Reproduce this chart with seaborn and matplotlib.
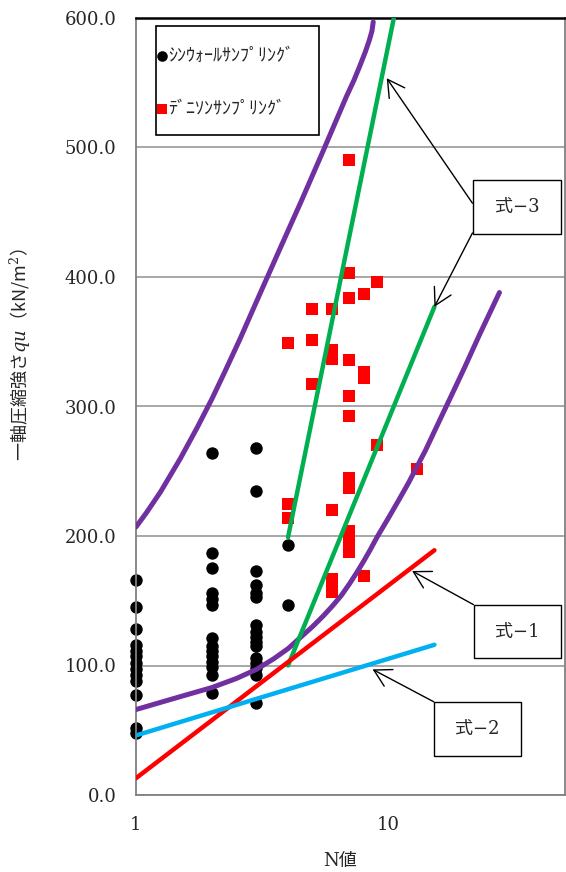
import matplotlib
matplotlib.use("Agg")
import matplotlib.pyplot as plt
import seaborn as sns
from matplotlib.patches import Rectangle
from matplotlib.ticker import FixedLocator, NullFormatter, StrMethodFormatter

# シンウォールサンプリング (N値, qu)
thin_n = [1] * 13 + [2] * 14 + [3] * 16 + [4] * 2
thin_qu = [166, 145, 128, 116, 111, 107, 102, 97, 93, 88, 77, 52, 48,
           264, 187, 175, 156, 151, 147, 121, 115, 111, 107, 103, 99, 93, 79,
           268, 235, 173, 162, 156, 153, 131, 126, 122, 118, 115, 106, 102, 98, 93, 71,
           193, 147]

# デニソンサンプリング (N値, qu)
den_n = [4] * 3 + [5] * 3 + [6] * 7 + [7] * 12 + [8] * 4 + [9] * 2 + [13]
den_qu = [349, 225, 214,
          375, 351, 317,
          375, 344, 337, 220, 167, 161, 157,
          490, 403, 384, 336, 308, 293, 245, 237, 204, 199, 193, 188,
          387, 327, 322, 169,
          396, 270,
          252]

# 上限・下限の曲線 (紫)
upper_n = [1, 1.1, 1.25, 1.5, 1.75, 2, 2.25, 2.58, 3, 3.7, 4.5, 5.5, 6.8, 7.3, 7.7, 8.1, 8.4, 8.6, 8.7]
upper_qu = [207, 218, 234, 260, 284, 306, 327, 352, 381, 421, 458, 497, 539, 552, 563, 574, 583, 590, 597]
lower_n = [1, 1.5, 2, 2.5, 3, 3.5, 4, 4.5, 5, 5.5, 6, 6.5, 7, 7.5, 8, 8.5, 9, 10,
           11, 12, 14, 16, 18, 20, 23, 27.5]
lower_qu = [66, 76, 83, 90, 97, 105, 113, 122, 130, 138, 146, 154, 163, 172, 181, 190, 199, 214,
            228, 241, 266, 290, 311, 330, 356, 388]

# 式-3 (緑)
eq3a_n = [4, 10.5]
eq3a_qu = [199, 600]
eq3b_n = [4, 15.2]
eq3b_qu = [100, 377]

# 式-1 (赤), 式-2 (青)
eq1_n = [1, 15.2]
eq1_qu = [13, 189]
eq2_n = [1, 15.2]
eq2_qu = [46, 116]

sns.set_style("white")
plt.rcParams["font.family"] = ["DejaVu Serif", "Noto Sans CJK JP"]
plt.rcParams["mathtext.fontset"] = "dejavuserif"

fig = plt.figure(figsize=(5.66, 8.72), dpi=100)
ax = fig.add_axes([136 / 566, 77 / 872, 429 / 566, 777 / 872])
ax.set_xscale("log")

sns.scatterplot(x=thin_n, y=thin_qu, ax=ax, color="black", marker="o", s=80,
                linewidth=0, label="ｼﾝｳｫｰﾙｻﾝﾌﾟﾘﾝｸﾞ", zorder=2, clip_on=False)
sns.scatterplot(x=den_n, y=den_qu, ax=ax, color="#ff0000", marker="s", s=75,
                linewidth=0, label="ﾃﾞﾆｿﾝｻﾝﾌﾟﾘﾝｸﾞ", zorder=2)

lines = [
    (upper_n, upper_qu, "#7030a0", 3.6),
    (lower_n, lower_qu, "#7030a0", 3.6),
    (eq3a_n, eq3a_qu, "#00b050", 3.2),
    (eq3b_n, eq3b_qu, "#00b050", 3.2),
    (eq1_n, eq1_qu, "#ff0000", 3.2),
    (eq2_n, eq2_qu, "#00b0f0", 3.2),
]
for n, q, c, lw in lines:
    sns.lineplot(x=n, y=q, ax=ax, color=c, lw=lw, estimator=None, sort=False,
                 zorder=3, solid_capstyle="round", solid_joinstyle="round")

# axes
ax.set_xlim(1, 50)
ax.set_ylim(0, 600)
ax.set_yticks(range(0, 601, 100))
ax.yaxis.set_major_formatter(StrMethodFormatter("{x:.1f}"))
ax.xaxis.set_major_locator(FixedLocator([1, 10]))
ax.set_xticklabels(["1", "10"])
ax.xaxis.set_minor_locator(FixedLocator([2, 3, 4, 5, 6, 7, 8, 9, 20, 30, 40]))
ax.xaxis.set_minor_formatter(NullFormatter())
ax.tick_params(axis="x", which="major", direction="in", length=5, color="#808080",
               pad=15, labelsize=13)
ax.tick_params(axis="x", which="minor", direction="in", length=4, color="#808080")
ax.tick_params(axis="y", length=0, pad=14, labelsize=13)
ax.yaxis.grid(True, color="#a0a0a0", lw=1.3)
ax.xaxis.grid(False)
for side in ["left", "bottom", "right"]:
    ax.spines[side].set_color("#808080")
    ax.spines[side].set_linewidth(1.3)
ax.spines["top"].set_color("black")
ax.spines["top"].set_linewidth(1.8)

ax.set_ylabel("一軸圧縮強さ$qu$（kN/m$^2$）", fontsize=13, family=["Noto Sans CJK JP"])
ax.yaxis.set_label_coords(-0.24, 0.566)
ax.set_xlabel("N値", fontsize=13)
ax.xaxis.set_label_coords(0.4755, -0.073)

# legend box
ax.add_patch(Rectangle((0.0466, 0.8494), 0.38, 0.1403, transform=ax.transAxes,
                       facecolor="white", edgecolor="black", lw=1.2, zorder=4))
leg = ax.legend(loc="upper left", bbox_to_anchor=(0.047, 0.963), frameon=False,
                borderpad=0, borderaxespad=0, handletextpad=0.05, handlelength=0.6,
                labelspacing=1.95, markerscale=0.85,
                prop={"family": ["Noto Sans CJK JP"], "size": 13})
leg.set_zorder(5)

# 式 labels
boxes = [
    ("式−3", 0.7855, 0.7220, 0.2051, 0.0695),
    ("式−1", 0.7879, 0.1763, 0.2028, 0.0682),
    ("式−2", 0.6946, 0.0502, 0.2028, 0.0695),
]
for txt, x0, y0, w, h in boxes:
    ax.add_patch(Rectangle((x0, y0), w, h, transform=ax.transAxes,
                           facecolor="white", edgecolor="black", lw=1, zorder=5))
    ax.text(x0 + w / 2, y0 + h / 2, txt, transform=ax.transAxes, ha="center",
            va="center", fontsize=13, zorder=6)

arrow = dict(arrowstyle="->,head_length=0.8,head_width=0.45", color="black",
             lw=1, shrinkA=0, shrinkB=0, mutation_scale=15)
for start, end in [((21.5, 457), (9.84, 553.5)),
                   ((21.5, 434), (15.2, 377)),
                   ((21.7, 147), (12.4, 173)),
                   ((15.1, 72), (8.65, 97))]:
    ax.annotate("", xy=end, xytext=start, arrowprops=arrow, zorder=4)

fig.savefig("out.png", dpi=100)
